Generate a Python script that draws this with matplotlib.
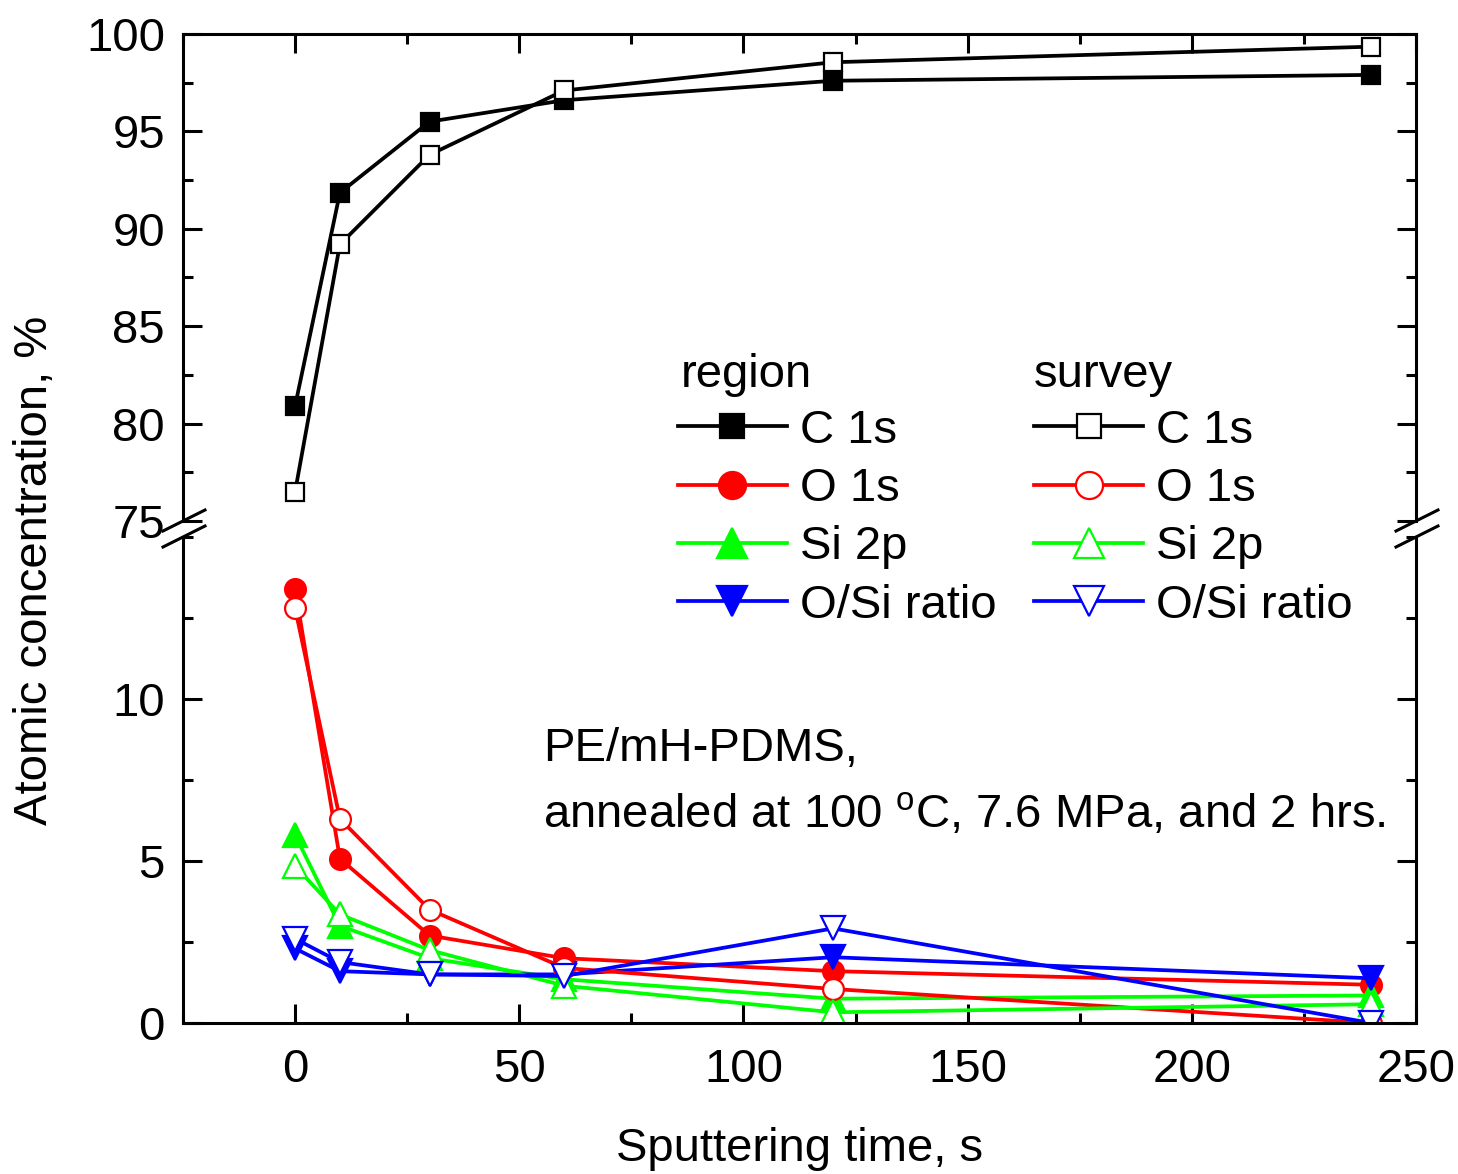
import matplotlib
matplotlib.use("Agg")
import matplotlib.pyplot as plt
from matplotlib.lines import Line2D
from matplotlib.ticker import MultipleLocator

plt.rcParams["font.family"] = ["Liberation Sans", "DejaVu Sans"]
plt.rcParams["mathtext.fontset"] = "custom"
plt.rcParams["mathtext.rm"] = "Liberation Sans"

time_s = [0, 10, 30, 60, 120, 240]

region_c1s = [80.9, 91.85, 95.5, 96.6, 97.6, 97.9]
survey_c1s = [76.5, 89.2, 93.8, 97.1, 98.55, 99.35]

region_o1s = [13.4, 5.07, 2.7, 2.0, 1.6, 1.18]
survey_o1s = [12.8, 6.3, 3.5, 1.7, 1.05, 0.0]
region_si2p = [5.8, 3.0, 2.0, 1.35, 0.75, 0.85]
survey_si2p = [4.85, 3.35, 2.25, 1.15, 0.33, 0.58]
region_osi = [2.3, 1.6, 1.5, 1.5, 2.03, 1.38]
survey_osi = [2.6, 1.88, 1.5, 1.45, 2.92, 0.0]

labels = ["C 1s", "O 1s", "Si 2p", "O/Si ratio"]

W, H = 1458, 1174
FS = 34
fig = plt.figure(figsize=(W / 100, H / 100), dpi=100)

left, right = 183 / W, 1416 / W
ax_top = fig.add_axes([left, 1 - 521 / H, right - left, (521 - 34) / H])
ax_bot = fig.add_axes([left, 1 - 1023 / H, right - left, (1023 - 537) / H])

lw = 2.7
styles = [
    ("k", "s", 13),
    ("#ff0000", "o", 15),
    ("#00ff00", "^", 17),
    ("#0000ff", "v", 17),
]

def draw(ax, y, color, marker, ms, filled):
    return ax.plot(
        time_s, y, color=color, lw=lw, marker=marker, ms=ms,
        mfc=color if filled else "white", mec=color, mew=1.6,
    )[0]

h_region = []
h_survey = []
h_region.append(draw(ax_top, region_c1s, *styles[0], True))
for y, st in zip([region_o1s, region_si2p, region_osi], styles[1:]):
    h_region.append(draw(ax_bot, y, *st, True))
h_survey.append(draw(ax_top, survey_c1s, *styles[0], False))
for y, st in zip([survey_o1s, survey_si2p, survey_osi], styles[1:]):
    h_survey.append(draw(ax_bot, y, *st, False))

for ax in (ax_top, ax_bot):
    ax.set_xlim(-25, 250)
    ax.xaxis.set_major_locator(MultipleLocator(50))
    ax.xaxis.set_minor_locator(MultipleLocator(25))
    ax.tick_params(which="both", direction="in", width=2.2, labelsize=FS,
                   left=True, right=True)
    ax.tick_params(which="major", length=14)
    ax.tick_params(which="minor", length=7)
    ax.tick_params(axis="y", pad=13)
    for sp in ax.spines.values():
        sp.set_linewidth(2.2)

ax_top.set_ylim(75, 100)
ax_top.yaxis.set_major_locator(MultipleLocator(5))
ax_top.yaxis.set_minor_locator(MultipleLocator(2.5))
ax_top.spines["bottom"].set_visible(False)
ax_top.tick_params(axis="x", which="both", bottom=False, top=True,
                   labelbottom=False, labeltop=False)

ax_bot.set_ylim(0, 15)
ax_bot.set_yticks([0, 5, 10])
ax_bot.yaxis.set_minor_locator(MultipleLocator(2.5))
ax_bot.spines["top"].set_visible(False)
ax_bot.tick_params(axis="x", which="both", top=False, pad=18)

# break marks
for ypx in (521, 537):
    for xpx in (183, 1416):
        fig.add_artist(Line2D([(xpx - 20) / W, (xpx + 22) / W],
                              [1 - (ypx + 10) / H, 1 - (ypx - 11) / H],
                              color="k", lw=2.2))

fig.text(800 / W, 1 - 1149 / H, "Sputtering time, s", fontsize=FS,
         ha="center", va="center")
fig.text(35 / W, 1 - 570 / H, "Atomic concentration, %", fontsize=FS,
         ha="center", va="center", rotation=90)

fig.text(681 / W, 1 - 387 / H, "region", fontsize=FS, va="baseline")
fig.text(1034 / W, 1 - 387 / H, "survey", fontsize=FS, va="baseline")
fig.legend(h_region + h_survey, labels + labels, ncol=2, frameon=False,
           loc="upper left", bbox_to_anchor=(678 / W, 1 - 409 / H),
           fontsize=FS, markerscale=1.3, handlelength=2.3,
           handletextpad=0.28, columnspacing=0.8, labelspacing=0.3,
           borderpad=0, borderaxespad=0)

fig.text(543 / W, 1 - 761 / H, "PE/mH-PDMS,", fontsize=FS, va="baseline")
fig.text(543 / W, 1 - 828 / H,
         r"annealed at 100 $^{\rm o}$C, 7.6 MPa, and 2 hrs.",
         fontsize=FS, va="baseline")

fig.savefig("out.png", dpi=100)
